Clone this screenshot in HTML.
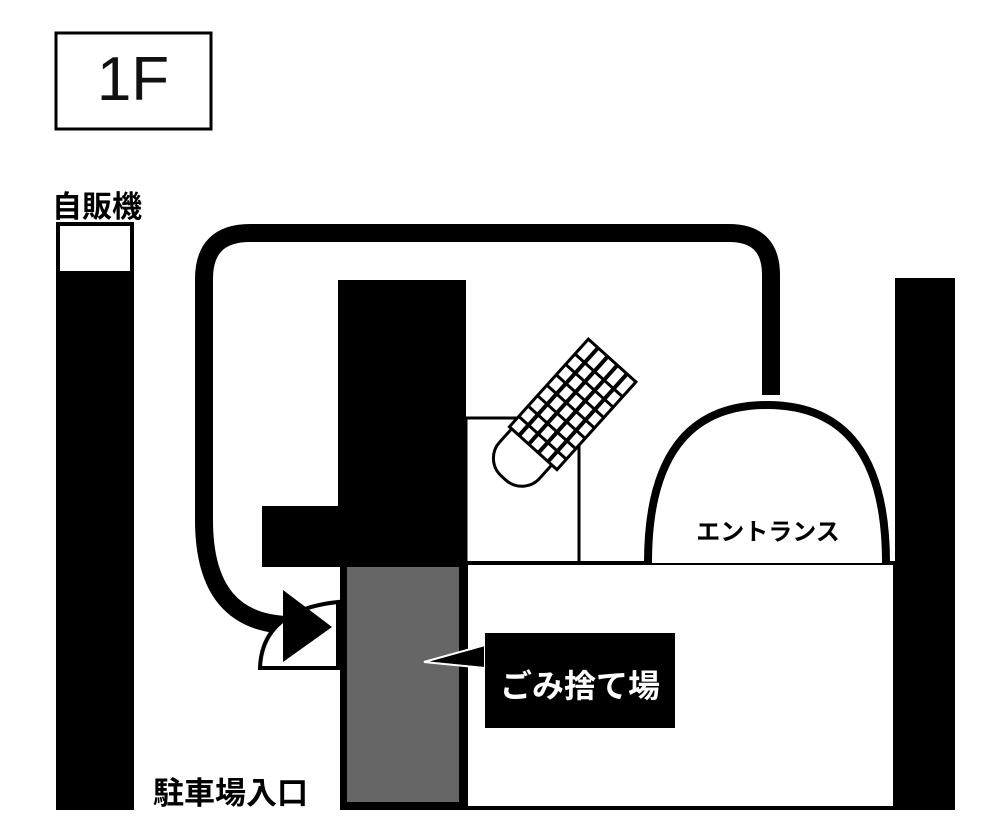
<!DOCTYPE html>
<html><head><meta charset="utf-8"><style>
html,body{margin:0;padding:0;background:#fff;}
svg{display:block;}
text{font-family:"Liberation Sans","Noto Sans CJK JP",sans-serif;}
</style></head><body>
<svg width="1004" height="834" viewBox="0 0 1004 834" xmlns="http://www.w3.org/2000/svg">
<rect x="56" y="33" width="155" height="96" fill="#fff" stroke="#000" stroke-width="3"/>
<text x="133" y="100" font-size="62" text-anchor="middle" fill="#111">1F</text>
<text x="52" y="217" font-size="30" font-weight="bold">自販機</text>
<rect x="57" y="223" width="76" height="586" fill="#000" stroke="#000" stroke-width="2"/>
<rect x="60" y="226" width="70" height="45" fill="#fff"/>
<!-- arrow path -->
<path d="M771 395 V275 Q771 233 729 233 H250 Q204 233 204 279 V520 Q204 625 292 625" fill="none" stroke="#000" stroke-width="18"/>
<!-- door -->
<path d="M260 668 Q262 610 338 602 V668 Z" fill="#fff" stroke="#000" stroke-width="4"/>
<polygon points="283,590 332,627 283,662" fill="#000"/>
<!-- blocks -->
<rect x="338" y="280" width="128" height="287" fill="#000"/>
<rect x="262" y="506" width="80" height="61" fill="#000"/>
<rect x="340" y="565" width="126" height="245" fill="#000"/>
<rect x="347" y="567" width="112" height="235" fill="#666"/>
<rect x="466" y="418" width="113" height="146" fill="none" stroke="#000" stroke-width="3"/>
<rect x="466" y="563" width="429" height="245" fill="#fff" stroke="#000" stroke-width="4"/>
<rect x="895" y="278" width="60" height="532" fill="#000"/>
<!-- entrance -->
<path d="M648 563 Q648 405 767 405 Q886 405 886 563" fill="#fff" stroke="#000" stroke-width="8"/>
<text x="768" y="540" font-size="24" font-weight="bold" text-anchor="middle">エントランス</text>
<!-- vending machine -->
<g transform="translate(572,432) rotate(-48)">
<rect x="-80" y="-47" width="105" height="54" rx="24" fill="#fff" stroke="#000" stroke-width="3"/>
<rect x="-38" y="-50" width="118" height="64" fill="#fff" stroke="#000" stroke-width="3"/>
<g stroke="#000" stroke-width="4">
<line x1="-38" y1="-37" x2="80" y2="-37"/><line x1="-38" y1="-24" x2="80" y2="-24"/><line x1="-38" y1="-11" x2="80" y2="-11"/><line x1="-38" y1="2" x2="80" y2="2"/>
</g>
<g stroke="#000" stroke-width="3">
<line x1="-24" y1="-50" x2="-24" y2="14"/><line x1="-10" y1="-50" x2="-10" y2="14"/><line x1="4" y1="-50" x2="4" y2="14"/><line x1="18" y1="-50" x2="18" y2="14"/><line x1="32" y1="-50" x2="32" y2="14"/><line x1="46" y1="-50" x2="46" y2="14"/><line x1="60" y1="-50" x2="60" y2="14"/>
</g>
</g>
<!-- callout -->
<polygon points="485,645 424,662 485,668" fill="#000" stroke="#fff" stroke-width="2"/>
<rect x="485" y="633" width="190" height="95" fill="#000"/>
<text x="580" y="697" font-size="32" font-weight="bold" fill="#fff" text-anchor="middle">ごみ捨て場</text>
<text x="153" y="804" font-size="31" font-weight="bold">駐車場入口</text>
</svg>
</body></html>
